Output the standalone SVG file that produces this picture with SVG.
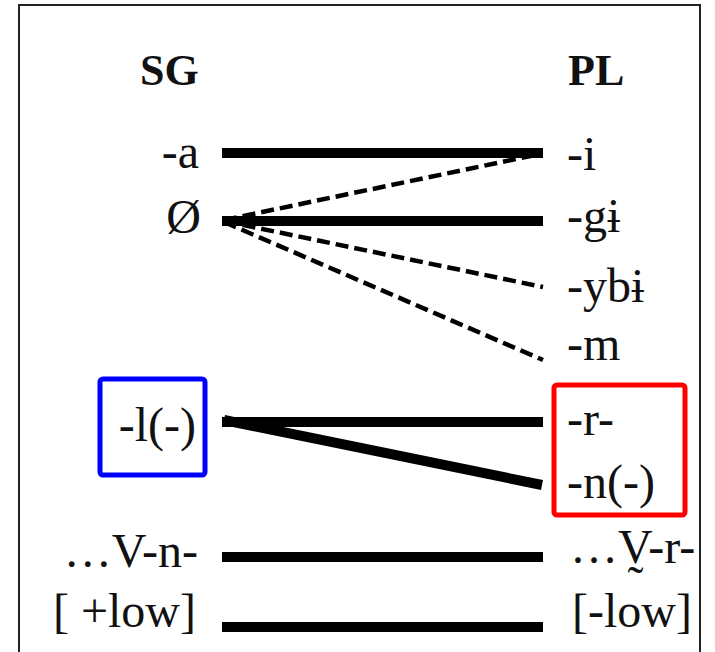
<svg xmlns="http://www.w3.org/2000/svg" width="715" height="652" viewBox="0 0 715 652">
<style>
.t{font-family:"Liberation Serif","Times New Roman",serif;font-size:48px;fill:#111}
.h{font-family:"Liberation Serif","Times New Roman",serif;font-size:44px;font-weight:bold;fill:#111}
.l{text-anchor:end}
.s{stroke:#000;stroke-width:10;fill:none}
.d{stroke:#000;stroke-width:4.5;stroke-dasharray:13 6;fill:none}
</style>
<rect x="0" y="0" width="715" height="652" fill="#fff"/>
<path d="M19,660 V5 H700 V660" fill="none" stroke="#222" stroke-width="2"/>
<g id="hdr-sg"><text class="h" x="140" y="85">SG</text></g>
<g id="hdr-pl"><text class="h" x="568" y="85">PL</text></g>
<g id="sg-a"><text class="t l" x="199" y="168">-a</text></g>
<g id="sg-zero"><text class="t l" x="201" y="233">Ø</text></g>
<g id="sg-l"><rect x="100" y="379" width="105" height="96" rx="3" fill="none" stroke="#0000ff" stroke-width="5"/><text class="t l" x="196" y="441">-l(-)</text></g>
<g id="sg-vn"><text class="t l" x="198" y="567">…V-n-</text></g>
<g id="sg-low"><text class="t l" x="196" y="627">[ +low]</text></g>
<g id="pl-i"><text class="t" x="567" y="170">-i</text></g>
<g id="pl-gi"><text class="t" x="567" y="232">-gɨ</text></g>
<g id="pl-ybi"><text class="t" x="567" y="302">-ybɨ</text></g>
<g id="pl-m"><text class="t" x="567" y="360">-m</text></g>
<g id="pl-rn"><rect x="554" y="385" width="131" height="130" rx="3" fill="none" stroke="#ff0000" stroke-width="5"/><text class="t" x="567" y="435">-r-</text><text class="t" x="567" y="498">-n(-)</text></g>
<g id="pl-vr"><text class="t" x="570" y="563">…V̰-r-</text></g>
<g id="pl-low"><text class="t" x="572" y="627">[-low]</text></g>
<g id="connectors">
<line class="s" x1="222" y1="153" x2="543" y2="153"/>
<line class="s" x1="222" y1="221" x2="543" y2="221"/>
<line class="d" x1="224" y1="220" x2="540" y2="154"/>
<line class="d" x1="224" y1="221" x2="543" y2="287"/>
<line class="d" x1="224" y1="222" x2="543" y2="360"/>
<line class="s" x1="222" y1="422" x2="543" y2="422"/>
<line class="s" x1="224" y1="420" x2="542" y2="485"/>
<line class="s" x1="222" y1="557" x2="543" y2="557"/>
<line class="s" x1="222" y1="627" x2="543" y2="627"/>
</g>
</svg>
